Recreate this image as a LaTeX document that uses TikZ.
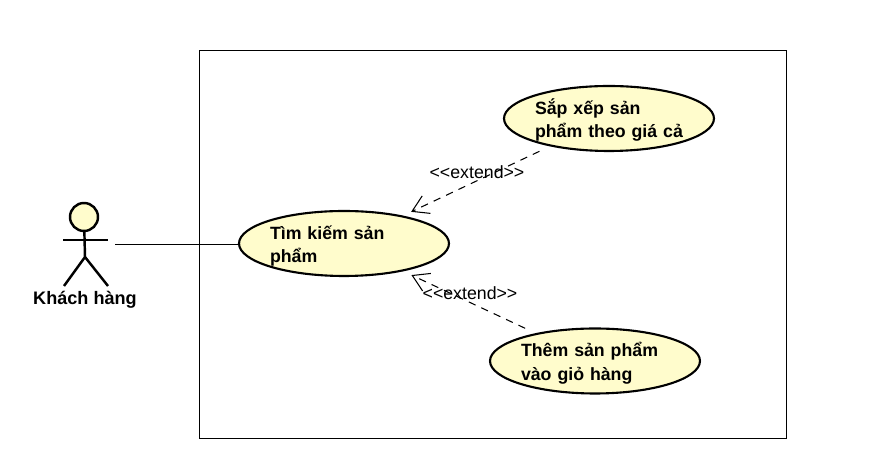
\documentclass[tikz,border=0pt]{standalone}
\usepackage{fontspec}
\setmainfont{Liberation Sans}
\usetikzlibrary{shapes.geometric,arrows.meta}

\tikzset{
	usecase/.style={ellipse,draw,line width=1.2pt,fill=yellow!20,minimum width=4.2cm,minimum height=1.3cm,
		inner sep=0pt,outer sep=0pt,text width=2.96cm,align=left,font=\fontsize{10.1}{13.3}\selectfont\bfseries,
		execute at begin node=\rule{0pt}{10.5pt}},
	extendline/.style={dashed,dash pattern=on 4.2pt off 3.6pt,line width=0.6pt,shorten >=6pt,shorten <=7.5pt,
		-{Straight Barb[length=9pt,width=11pt,line width=0.6pt]}},
	actorline/.style={line width=1.4pt},
	extendlabel/.style={font=\fontsize{10.1}{11}\selectfont,inner sep=0pt}
}

\begin{document}
\begin{tikzpicture}[x=0.02cm,y=-0.02cm]
	\useasboundingbox (0, 0) rectangle (894, 475);

	\draw[line width=0.55pt] (199, 50) rectangle (786, 438);

	\node[usecase] (search) at (344, 243.5) {Tìm kiếm sản\\phẩm};
	\node[usecase] (sort) at (609, 118.5) {Sắp xếp sản\\phẩm theo giá cả};
	\node[usecase] (cart) at (595, 361) {Thêm sản phẩm\\vào giỏ hàng};

	\node[circle,draw,line width=1.4pt,fill=yellow!20,minimum size=0.56cm,inner sep=0pt,outer sep=0pt] (head) at (84, 217) {};
	\coordinate (armleft) at (63, 240);
	\coordinate (armright) at (108, 240);
	\coordinate (hip) at (85, 257);
	\coordinate (footleft) at (64, 286);
	\coordinate (footright) at (108, 286);
	\draw[actorline] (head) -- (hip);
	\draw[actorline] (armleft) -- (armright);
	\draw[actorline] (footleft) -- (hip) -- (footright);
	\node[font=\fontsize{10.3}{12}\selectfont\bfseries,inner sep=0pt] (customer) at (85, 300) {Khách hàng};

	\coordinate (actorhand) at (115, 244.5);
	\draw[line width=0.6pt] (actorhand) -- (actorhand -| search.west);

	\draw[extendline] (sort) -- (search);
	\draw[extendline] (cart) -- (search);
	\node[extendlabel] (sortlabel) at (477, 172) {<{}<extend>{}>};
	\node[extendlabel] (cartlabel) at (470, 293) {<{}<extend>{}>};
\end{tikzpicture}
\end{document}
